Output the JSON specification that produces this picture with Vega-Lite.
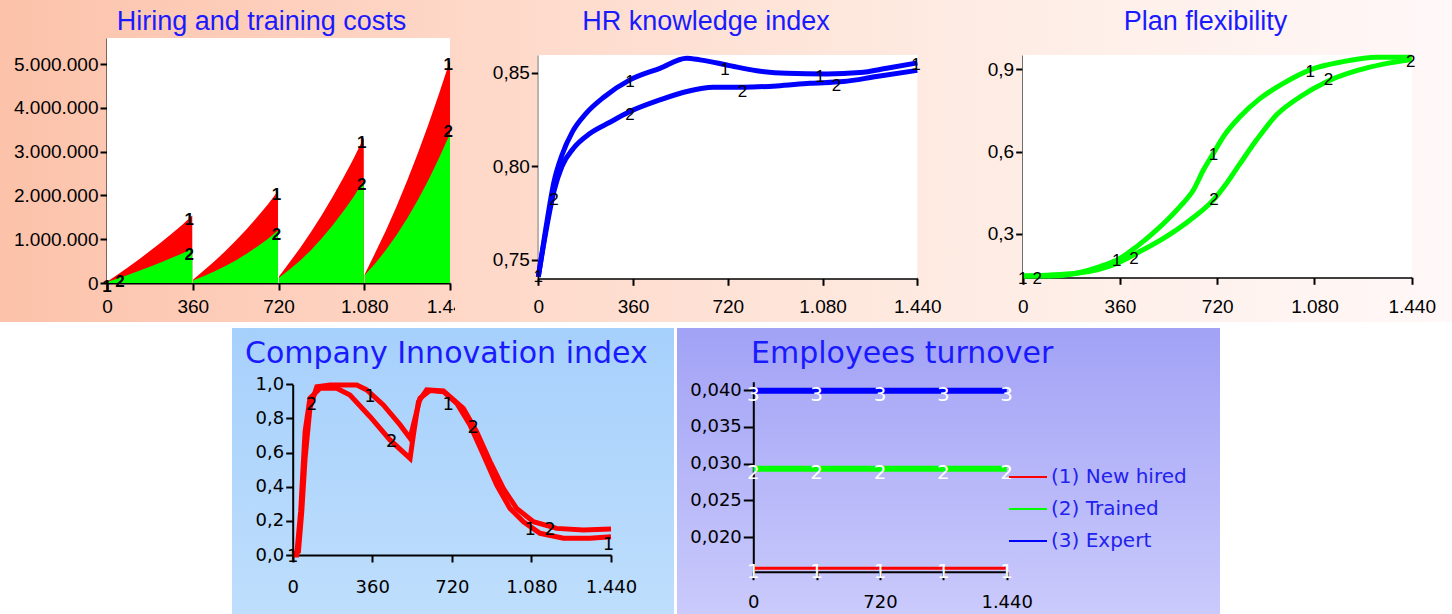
{
  "$schema": "https://vega.github.io/schema/vega-lite/v6.json",
  "padding": 0,
  "background": "white",
  "config": {
    "locale": {"number": {"decimal": ",", "thousands": ".", "grouping": [3], "currency": ["", ""]}},
    "view": {"stroke": null},
    "axis": {"grid": false, "title": null, "domainColor": "black", "domainWidth": 2, "tickColor": "black", "tickWidth": 2, "labelColor": "black", "labelFont": "Liberation Sans", "labelFontSize": 19, "labelFlush": false, "labelOverlap": false, "zindex": 1},
    "title": {"color": "#1a1aff", "font": "Liberation Sans", "fontWeight": "normal", "fontSize": 27, "frame": "group"}
  },
  "datasets": {
    "hire": [
      {"t":0,"seg":1,"s1":30000,"s2":20000},{"t":45,"seg":1,"s1":195000,"s2":103000},{"t":90,"seg":1,"s1":365000,"s2":189000},{"t":135,"seg":1,"s1":543000,"s2":278000},{"t":180,"seg":1,"s1":728000,"s2":371000},{"t":225,"seg":1,"s1":921000,"s2":468000},{"t":270,"seg":1,"s1":1120000,"s2":569000},{"t":315,"seg":1,"s1":1327000,"s2":673000},{"t":358,"seg":1,"s1":1540000,"s2":780000},
      {"t":362,"seg":2,"s1":80000,"s2":60000},{"t":405,"seg":2,"s1":277000,"s2":152000},{"t":450,"seg":2,"s1":490000,"s2":260000},{"t":495,"seg":2,"s1":718000,"s2":380000},{"t":540,"seg":2,"s1":964000,"s2":516000},{"t":585,"seg":2,"s1":1223000,"s2":665000},{"t":630,"seg":2,"s1":1500000,"s2":830000},{"t":675,"seg":2,"s1":1793000,"s2":1007000},{"t":718,"seg":2,"s1":2100000,"s2":1200000},
      {"t":722,"seg":3,"s1":150000,"s2":120000},{"t":765,"seg":3,"s1":460000,"s2":300000},{"t":810,"seg":3,"s1":794000,"s2":509000},{"t":855,"seg":3,"s1":1152000,"s2":744000},{"t":900,"seg":3,"s1":1537000,"s2":1008000},{"t":945,"seg":3,"s1":1944000,"s2":1299000},{"t":990,"seg":3,"s1":2379000,"s2":1619000},{"t":1035,"seg":3,"s1":2838000,"s2":1965000},{"t":1078,"seg":3,"s1":3320000,"s2":2340000},
      {"t":1082,"seg":4,"s1":200000,"s2":180000},{"t":1125,"seg":4,"s1":677000,"s2":442000},{"t":1170,"seg":4,"s1":1190000,"s2":745000},{"t":1215,"seg":4,"s1":1742000,"s2":1088000},{"t":1260,"seg":4,"s1":2335000,"s2":1472000},{"t":1305,"seg":4,"s1":2962000,"s2":1895000},{"t":1350,"seg":4,"s1":3631000,"s2":2360000},{"t":1395,"seg":4,"s1":4338000,"s2":2864000},{"t":1440,"seg":4,"s1":5080000,"s2":3410000}
    ],
    "hireLab": [
      {"t":0,"v":-85000,"lab":"1"},{"t":55,"v":30000,"lab":"2"},{"t":345,"v":1440000,"lab":"1"},{"t":345,"v":640000,"lab":"2"},{"t":712,"v":2010000,"lab":"1"},{"t":712,"v":1100000,"lab":"2"},{"t":1069,"v":3190000,"lab":"1"},{"t":1069,"v":2240000,"lab":"2"},{"t":1433,"v":4980000,"lab":"1"},{"t":1433,"v":3440000,"lab":"2"}
    ],
    "hr": [
      {"t":0,"s":"1","v":0.741},{"t":30,"s":"1","v":0.768},{"t":60,"s":"1","v":0.792},{"t":90,"s":"1","v":0.806},{"t":130,"s":"1","v":0.8185},{"t":180,"s":"1","v":0.828},{"t":250,"s":"1","v":0.837},{"t":348,"s":"1","v":0.8461},{"t":462,"s":"1","v":0.8523},{"t":564,"s":"1","v":0.8577},{"t":614,"s":"1","v":0.8568},{"t":716,"s":"1","v":0.8541},{"t":830,"s":"1","v":0.851},{"t":944,"s":"1","v":0.8496},{"t":1096,"s":"1","v":0.8493},{"t":1222,"s":"1","v":0.85},{"t":1324,"s":"1","v":0.8523},{"t":1440,"s":"1","v":0.8552},
      {"t":0,"s":"2","v":0.741},{"t":30,"s":"2","v":0.766},{"t":60,"s":"2","v":0.787},{"t":90,"s":"2","v":0.8},{"t":133,"s":"2","v":0.8095},{"t":196,"s":"2","v":0.8175},{"t":272,"s":"2","v":0.8235},{"t":348,"s":"2","v":0.8292},{"t":462,"s":"2","v":0.8354},{"t":564,"s":"2","v":0.8399},{"t":665,"s":"2","v":0.8422},{"t":779,"s":"2","v":0.8422},{"t":906,"s":"2","v":0.8429},{"t":1032,"s":"2","v":0.8443},{"t":1159,"s":"2","v":0.8452},{"t":1285,"s":"2","v":0.8479},{"t":1440,"s":"2","v":0.8512}
    ],
    "hrLab": [
      {"t":0,"v":0.741,"lab":"1"},{"t":60,"v":0.782,"lab":"2"},{"t":348,"v":0.845,"lab":"1"},{"t":348,"v":0.8274,"lab":"2"},{"t":709,"v":0.8514,"lab":"1"},{"t":776,"v":0.8399,"lab":"2"},{"t":1070,"v":0.8479,"lab":"1"},{"t":1133,"v":0.8429,"lab":"2"},{"t":1435,"v":0.8541,"lab":"1"}
    ],
    "plan": [
      {"t":0,"s":"1","v":0.147},{"t":101,"s":"1","v":0.147},{"t":200,"s":"1","v":0.157},{"t":286,"s":"1","v":0.181},{"t":360,"s":"1","v":0.211},{"t":422,"s":"1","v":0.254},{"t":496,"s":"1","v":0.315},{"t":582,"s":"1","v":0.4},{"t":632,"s":"1","v":0.46},{"t":669,"s":"1","v":0.533},{"t":706,"s":"1","v":0.594},{"t":743,"s":"1","v":0.655},{"t":805,"s":"1","v":0.728},{"t":879,"s":"1","v":0.794},{"t":965,"s":"1","v":0.849},{"t":1064,"s":"1","v":0.898},{"t":1187,"s":"1","v":0.928},{"t":1310,"s":"1","v":0.944},{"t":1440,"s":"1","v":0.944},
      {"t":0,"s":"2","v":0.147},{"t":200,"s":"2","v":0.157},{"t":348,"s":"2","v":0.193},{"t":422,"s":"2","v":0.23},{"t":521,"s":"2","v":0.284},{"t":620,"s":"2","v":0.351},{"t":706,"s":"2","v":0.424},{"t":755,"s":"2","v":0.485},{"t":805,"s":"2","v":0.557},{"t":866,"s":"2","v":0.643},{"t":940,"s":"2","v":0.734},{"t":1027,"s":"2","v":0.8},{"t":1125,"s":"2","v":0.855},{"t":1236,"s":"2","v":0.895},{"t":1335,"s":"2","v":0.919},{"t":1440,"s":"2","v":0.936}
    ],
    "planLab": [
      {"t":0,"v":0.137,"lab":"1"},{"t":54,"v":0.137,"lab":"2"},{"t":348,"v":0.2,"lab":"1"},{"t":412,"v":0.21,"lab":"2"},{"t":706,"v":0.588,"lab":"1"},{"t":708,"v":0.424,"lab":"2"},{"t":1064,"v":0.891,"lab":"1"},{"t":1132,"v":0.861,"lab":"2"},{"t":1436,"v":0.928,"lab":"2"}
    ],
    "innov": [
      {"t":0,"s":"1","v":0},{"t":26,"s":"1","v":0.02},{"t":41,"s":"1","v":0.254},{"t":56,"s":"1","v":0.566},{"t":78,"s":"1","v":0.86},{"t":109,"s":"1","v":0.986},{"t":169,"s":"1","v":0.996},{"t":290,"s":"1","v":0.996},{"t":335,"s":"1","v":0.967},{"t":410,"s":"1","v":0.879},{"t":486,"s":"1","v":0.762},{"t":531,"s":"1","v":0.684},{"t":546,"s":"1","v":0.762},{"t":576,"s":"1","v":0.918},{"t":621,"s":"1","v":0.963},{"t":682,"s":"1","v":0.957},{"t":742,"s":"1","v":0.889},{"t":802,"s":"1","v":0.762},{"t":863,"s":"1","v":0.586},{"t":923,"s":"1","v":0.41},{"t":983,"s":"1","v":0.273},{"t":1044,"s":"1","v":0.195},{"t":1119,"s":"1","v":0.127},{"t":1225,"s":"1","v":0.098},{"t":1345,"s":"1","v":0.098},{"t":1440,"s":"1","v":0.107},
      {"t":0,"s":"2","v":0},{"t":18,"s":"2","v":0},{"t":36,"s":"2","v":0.254},{"t":56,"s":"2","v":0.723},{"t":78,"s":"2","v":0.918},{"t":124,"s":"2","v":0.977},{"t":199,"s":"2","v":0.977},{"t":259,"s":"2","v":0.9375},{"t":350,"s":"2","v":0.81},{"t":440,"s":"2","v":0.674},{"t":531,"s":"2","v":0.566},{"t":546,"s":"2","v":0.703},{"t":569,"s":"2","v":0.898},{"t":606,"s":"2","v":0.967},{"t":682,"s":"2","v":0.961},{"t":772,"s":"2","v":0.859},{"t":832,"s":"2","v":0.723},{"t":893,"s":"2","v":0.547},{"t":953,"s":"2","v":0.39},{"t":1013,"s":"2","v":0.273},{"t":1089,"s":"2","v":0.195},{"t":1194,"s":"2","v":0.156},{"t":1315,"s":"2","v":0.146},{"t":1440,"s":"2","v":0.152}
    ],
    "innovLab": [
      {"t":0,"v":-0.01,"lab":"1"},{"t":86,"v":0.879,"lab":"2"},{"t":350,"v":0.928,"lab":"1"},{"t":448,"v":0.664,"lab":"2"},{"t":704,"v":0.879,"lab":"1"},{"t":817,"v":0.742,"lab":"2"},{"t":1074,"v":0.146,"lab":"1"},{"t":1164,"v":0.146,"lab":"2"},{"t":1428,"v":0.059,"lab":"1"}
    ],
    "turn": [
      {"t":0,"series":"(1) New hired","n":"1","v":0.0158},{"t":360,"series":"(1) New hired","n":"1","v":0.0158},{"t":720,"series":"(1) New hired","n":"1","v":0.0158},{"t":1080,"series":"(1) New hired","n":"1","v":0.0158},{"t":1440,"series":"(1) New hired","n":"1","v":0.0158},
      {"t":0,"series":"(2) Trained","n":"2","v":0.0293},{"t":360,"series":"(2) Trained","n":"2","v":0.0293},{"t":720,"series":"(2) Trained","n":"2","v":0.0293},{"t":1080,"series":"(2) Trained","n":"2","v":0.0293},{"t":1440,"series":"(2) Trained","n":"2","v":0.0293},
      {"t":0,"series":"(3) Expert","n":"3","v":0.0399},{"t":360,"series":"(3) Expert","n":"3","v":0.0399},{"t":720,"series":"(3) Expert","n":"3","v":0.0399},{"t":1080,"series":"(3) Expert","n":"3","v":0.0399},{"t":1440,"series":"(3) Expert","n":"3","v":0.0399}
    ]
  },
  "spacing": 6,
  "center": true,
  "vconcat": [
    {
      "spacing": 0,
      "bounds": "flush",
      "hconcat": [
        {
          "width": 455, "height": 322,
          "view": {"stroke": null, "fill": {"gradient": "linear", "x1": 0, "y1": 0, "x2": 1, "y2": 0, "stops": [{"offset": 0, "color": "#fcc2aa"}, {"offset": 1, "color": "#fed7c7"}]}},
          "title": {"text": "Hiring and training costs", "offset": -36, "dx": 34},
          "layer": [
            {
              "data": {"values": [{}]},
              "mark": {"type": "rect", "fill": "white"},
              "encoding": {
                "x": {"datum": 0, "type": "quantitative", "scale": {"domain": [0, 1440], "range": [107, 450], "nice": false, "zero": false}, "axis": {"values": [0, 360, 720, 1080, 1440], "format": ",d", "offset": -39, "tickSize": 7, "labelPadding": 7}},
                "x2": {"datum": 1440},
                "y": {"datum": 0, "type": "quantitative", "scale": {"domain": [0, 5594000], "range": [283, 38], "nice": false, "zero": false}, "axis": {"values": [0, 1000000, 2000000, 3000000, 4000000, 5000000], "format": ",d", "offset": -107, "tickSize": 7, "labelPadding": 2}},
                "y2": {"datum": 5594000}
              }
            },
            {
              "data": {"name": "hire"},
              "mark": {"type": "area", "color": "#ff0000"},
              "encoding": {"x": {"field": "t", "type": "quantitative"}, "y": {"field": "s1", "type": "quantitative", "stack": null}, "detail": {"field": "seg"}}
            },
            {
              "data": {"name": "hire"},
              "mark": {"type": "area", "color": "#00ff00"},
              "encoding": {"x": {"field": "t", "type": "quantitative"}, "y": {"field": "s2", "type": "quantitative", "stack": null}, "detail": {"field": "seg"}}
            },
            {
              "data": {"name": "hireLab"},
              "mark": {"type": "text", "font": "Liberation Sans", "fontSize": 17, "fontWeight": "bold", "color": "black", "baseline": "middle", "align": "center"},
              "encoding": {"x": {"field": "t", "type": "quantitative"}, "y": {"field": "v", "type": "quantitative"}, "text": {"field": "lab"}}
            }
          ]
        },
        {
          "width": 490, "height": 322,
          "view": {"stroke": null, "fill": {"gradient": "linear", "x1": 0, "y1": 0, "x2": 1, "y2": 0, "stops": [{"offset": 0, "color": "#fed7c7"}, {"offset": 1, "color": "#feebe2"}]}},
          "title": {"text": "HR knowledge index", "offset": -36, "dx": 6},
          "layer": [
            {
              "data": {"values": [{}]},
              "mark": {"type": "rect", "fill": "white"},
              "encoding": {
                "x": {"datum": 0, "type": "quantitative", "scale": {"domain": [0, 1440], "range": [83.3, 462.3], "nice": false, "zero": false}, "axis": {"values": [0, 360, 720, 1080, 1440], "format": ",d", "offset": -43.7, "tickSize": 7, "labelPadding": 12}},
                "x2": {"datum": 1440},
                "y": {"datum": 0.7402, "type": "quantitative", "scale": {"domain": [0.7402, 0.8594], "range": [278.3, 55], "nice": false, "zero": false}, "axis": {"values": [0.75, 0.8, 0.85], "format": ".2f", "offset": -83.3, "tickSize": 7, "labelPadding": 2}},
                "y2": {"datum": 0.8594}
              }
            },
            {
              "data": {"name": "hr"},
              "mark": {"type": "line", "color": "#0000ff", "strokeWidth": 5, "interpolate": "monotone"},
              "encoding": {"x": {"field": "t", "type": "quantitative"}, "y": {"field": "v", "type": "quantitative"}, "detail": {"field": "s"}}
            },
            {
              "data": {"name": "hrLab"},
              "mark": {"type": "text", "font": "Liberation Sans", "fontSize": 17, "color": "black", "baseline": "middle", "align": "center"},
              "encoding": {"x": {"field": "t", "type": "quantitative"}, "y": {"field": "v", "type": "quantitative"}, "text": {"field": "lab"}}
            }
          ]
        },
        {
          "width": 507, "height": 322,
          "view": {"stroke": null, "fill": {"gradient": "linear", "x1": 0, "y1": 0, "x2": 1, "y2": 0, "stops": [{"offset": 0, "color": "#feebe2"}, {"offset": 1, "color": "#fff8f8"}]}},
          "title": {"text": "Plan flexibility", "offset": -36, "dx": 7},
          "layer": [
            {
              "data": {"values": [{}]},
              "mark": {"type": "rect", "fill": "white"},
              "encoding": {
                "x": {"datum": 0, "type": "quantitative", "scale": {"domain": [0, 1440], "range": [77.7, 466.7], "nice": false, "zero": false}, "axis": {"values": [0, 360, 720, 1080, 1440], "format": ",d", "offset": -44.7, "tickSize": 7, "labelPadding": 13}},
                "x2": {"datum": 1440},
                "y": {"datum": 0.1422, "type": "quantitative", "scale": {"domain": [0.1422, 0.9521], "range": [277.3, 55], "nice": false, "zero": false}, "axis": {"values": [0.3, 0.6, 0.9], "format": ".1f", "offset": -77.7, "tickSize": 7, "labelPadding": 2}},
                "y2": {"datum": 0.9521}
              }
            },
            {
              "data": {"name": "plan"},
              "mark": {"type": "line", "color": "#00ff00", "strokeWidth": 5, "interpolate": "monotone"},
              "encoding": {"x": {"field": "t", "type": "quantitative"}, "y": {"field": "v", "type": "quantitative"}, "detail": {"field": "s"}}
            },
            {
              "data": {"name": "planLab"},
              "mark": {"type": "text", "font": "Liberation Sans", "fontSize": 17, "color": "black", "baseline": "middle", "align": "center"},
              "encoding": {"x": {"field": "t", "type": "quantitative"}, "y": {"field": "v", "type": "quantitative"}, "text": {"field": "lab"}}
            }
          ]
        }
      ]
    },
    {
      "spacing": 3,
      "bounds": "flush",
      "hconcat": [
        {
          "width": 442, "height": 286,
          "view": {"stroke": null, "fill": {"gradient": "linear", "x1": 0, "y1": 0, "x2": 0, "y2": 1, "stops": [{"offset": 0, "color": "#a6d0fc"}, {"offset": 1, "color": "#bedefc"}]}},
          "title": {"text": "Company Innovation index", "anchor": "start", "dx": 13, "offset": -41, "font": "DejaVu Sans", "fontSize": 30},
          "layer": [
            {
              "data": {"name": "innov"},
              "mark": {"type": "line", "color": "#ff0000", "strokeWidth": 5},
              "encoding": {
                "x": {"field": "t", "type": "quantitative", "scale": {"domain": [0, 1440], "range": [60.7, 379], "nice": false, "zero": false}, "axis": {"values": [0, 360, 720, 1080, 1440], "format": ",d", "offset": -59, "tickSize": 7, "labelPadding": 16, "labelFont": "DejaVu Sans", "labelFontSize": 18}},
                "y": {"field": "v", "type": "quantitative", "scale": {"domain": [0, 1], "range": [227, 56.3], "nice": false, "zero": false}, "axis": {"values": [0, 0.2, 0.4, 0.6, 0.8, 1], "format": ".1f", "offset": -60.7, "tickSize": 7, "labelPadding": 2, "labelFont": "DejaVu Sans", "labelFontSize": 18}},
                "detail": {"field": "s"}
              }
            },
            {
              "data": {"name": "innovLab"},
              "mark": {"type": "text", "font": "DejaVu Sans", "fontSize": 18, "color": "black", "baseline": "middle", "align": "center"},
              "encoding": {"x": {"field": "t", "type": "quantitative"}, "y": {"field": "v", "type": "quantitative"}, "text": {"field": "lab"}}
            }
          ]
        },
        {
          "width": 543, "height": 286,
          "view": {"stroke": null, "fill": {"gradient": "linear", "x1": 0, "y1": 0, "x2": 0, "y2": 1, "stops": [{"offset": 0, "color": "#a2a2f6"}, {"offset": 1, "color": "#cacafc"}]}},
          "title": {"text": "Employees turnover", "anchor": "start", "dx": 74, "offset": -41, "font": "DejaVu Sans", "fontSize": 30},
          "layer": [
            {
              "data": {"name": "turn"},
              "transform": [{"filter": "datum.series !== '(1) New hired'"}],
              "mark": {"type": "line", "strokeWidth": 6},
              "encoding": {
                "x": {"field": "t", "type": "quantitative", "scale": {"domain": [0, 1440], "range": [76.3, 329.7], "nice": false, "zero": false}, "axis": {"values": [0, 360, 720, 1080, 1440], "format": ",d", "labelExpr": "datum.value % 720 === 0 ? datum.label : ''", "offset": -42.3, "tickSize": 8, "labelPadding": 14, "labelFont": "DejaVu Sans", "labelFontSize": 18}},
                "y": {"field": "v", "type": "quantitative", "scale": {"domain": [0.01533, 0.04113], "range": [243.7, 53.7], "nice": false, "zero": false}, "axis": {"values": [0.02, 0.025, 0.03, 0.035, 0.04], "format": ".3f", "offset": -76.3, "tickSize": 10, "labelPadding": 2, "labelFont": "DejaVu Sans", "labelFontSize": 18}},
                "color": {"field": "series", "type": "nominal", "scale": {"domain": ["(1) New hired", "(2) Trained", "(3) Expert"], "range": ["#ff0000", "#00ff00", "#0000ff"]}, "legend": {"orient": "none", "legendX": 1008, "legendY": 466, "title": null, "symbolType": "stroke", "symbolSize": 1444, "symbolStrokeWidth": 2, "clipHeight": 22, "labelFont": "DejaVu Sans", "labelFontSize": 20, "labelColor": "#2222ee", "rowPadding": 10, "labelOffset": 3, "encode": {"symbols": {"update": {"strokeWidth": {"value": 2}}}}}}
              }
            },
            {
              "data": {"name": "turn"},
              "transform": [{"filter": "datum.series === '(1) New hired'"}],
              "mark": {"type": "line", "strokeWidth": 3},
              "encoding": {
                "x": {"field": "t", "type": "quantitative"},
                "y": {"field": "v", "type": "quantitative"},
                "color": {"field": "series", "type": "nominal"}
              }
            },
            {
              "data": {"name": "turn"},
              "mark": {"type": "text", "font": "DejaVu Sans", "fontSize": 20, "color": "white", "baseline": "middle", "align": "center", "dy": 4},
              "encoding": {"x": {"field": "t", "type": "quantitative"}, "y": {"field": "v", "type": "quantitative"}, "text": {"field": "n"}}
            }
          ]
        }
      ]
    }
  ]
}
